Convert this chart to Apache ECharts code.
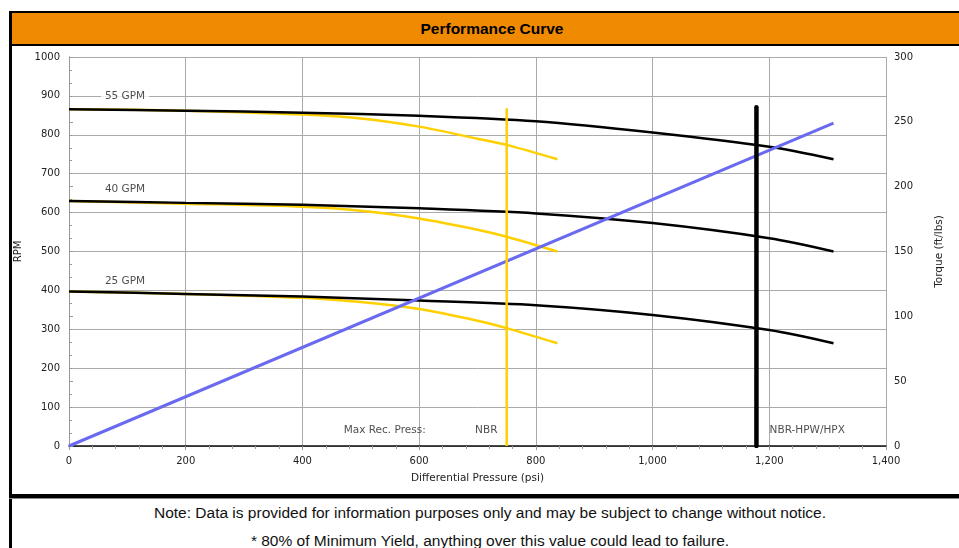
<!DOCTYPE html>
<html>
<head>
<meta charset="utf-8">
<script src="https://cdn.jsdelivr.net/npm/echarts@6/dist/echarts.min.js"></script>
<style>
body { margin: 0; width: 959px; height: 548px; overflow: hidden; background: #fff; font-family: "Liberation Sans", Arial, sans-serif; }
#frame { position: absolute; left: 9px; top: 11px; width: 960px; height: 560px; border-left: 3px solid #000; }
#head { position: absolute; left: 9px; top: 11px; width: 960px; height: 31px; background: #F08A00;
  border-top: 2px solid #000; border-bottom: 2px solid #000; border-left: 3px solid #000; }
#head span { position: absolute; left: 0; width: 960px; text-align: center; line-height: 31px; font-size: 15.5px; font-weight: bold; color: #000; }
#sep { position: absolute; left: 9px; top: 494px; width: 960px; height: 4px; background: #000; border-bottom: 1px solid #888; }
.note { position: absolute; left: 12px; width: 956px; text-align: center; font-size: 15.5px; color: #111; }
#chart { position: absolute; left: 0; top: 0; width: 959px; height: 548px; z-index: 2; }
</style>
</head>
<body>
<div id="frame"></div>
<div id="head"><span>Performance Curve</span></div>
<div id="sep"></div>
<div class="note" style="top:504px">Note: Data is provided for information purposes only and may be subject to change without notice.</div>
<div class="note" style="top:532px">* 80% of Minimum Yield, anything over this value could lead to failure.</div>
<div id="chart"></div>
<script>
// psi values where the curves were read
const psiFull = [0, 200, 400, 600, 800, 1000, 1200, 1310];
const psiNbr = [0, 200, 400, 500, 600, 700, 750, 837];

// RPM, NBR-HPW/HPX (black)
const hpw55 = [866, 862, 857, 849, 835, 806, 769, 737];
const hpw40 = [630, 625, 620, 611, 598, 573, 534, 500];
const hpw25 = [397, 391, 384, 374, 362, 337, 298, 264];

// RPM, NBR (yellow)
const nbr55 = [866, 862, 852, 842, 821, 790, 774, 737];
const nbr40 = [630, 623, 615, 605, 585, 556, 538, 500];
const nbr25 = [397, 391, 381, 370, 352, 322, 303, 264];

// torque line (ft/lbs)
const torquePsi = [0, 1310];
const torque = [0, 249];

// max recommended pressure lines
const nbrMax = [[750, 0], [750, 868]];
const hpwMax = [[1178, 0], [1178, 871]];

const curveLabels = [[96, 898, '55 GPM'], [96, 660, '40 GPM'], [96, 424, '25 GPM']];
const pressLabels = [[541, 41, 'Max Rec. Press:'], [715, 41, 'NBR'], [1265, 41, 'NBR-HPW/HPX']];

const zip = (xs, ys) => xs.map((x, i) => [x, ys[i]]);
const txt = '#222';
const font = 'DejaVu Sans';
const fs = 10;

let chart = echarts.init(document.getElementById('chart'));

function curve(xs, ys, color) {
	return {
		type: 'line',
		data: zip(xs, ys),
		smooth: 0.3,
		symbol: 'none',
		lineStyle: { color: color, width: 2.5 },
		silent: true,
	};
}

function textSeries(items, bg) {
	return {
		type: 'scatter',
		symbolSize: 0,
		data: items.map(d => ({ value: [d[0], d[1]], name: d[2] })),
		label: {
			show: true,
			position: 'inside',
			formatter: p => p.name,
			color: txt,
			fontFamily: font,
			fontSize: 10.5,
			backgroundColor: bg,
			padding: [1, 4],
		},
		z: 5,
	};
}

const option = {
	animation: false,
	grid: { left: 69, right: 73, top: 57, bottom: 102 },
	xAxis: [
		{
			type: 'value',
			min: 0,
			max: 1400,
			interval: 200,
			name: 'Differential Pressure (psi)',
			nameLocation: 'middle',
			nameGap: 27,
			nameTextStyle: { color: txt, fontFamily: font, fontSize: 10.5 },
			axisLine: { lineStyle: { color: '#999' } },
			axisTick: { show: true, length: 4, lineStyle: { color: '#999' } },
			minorTick: { show: true, splitNumber: 5, length: 3, lineStyle: { color: '#999' } },
			axisLabel: {
				color: txt, fontFamily: font, fontSize: fs, margin: 10,
				formatter: v => v.toLocaleString('en-US'),
			},
			splitLine: { show: true, lineStyle: { color: '#aaa' } },
		},
		{
			// top border of the plot
			type: 'value',
			position: 'top',
			min: 0,
			max: 1400,
			axisLine: { lineStyle: { color: '#111', width: 1.5 } },
			axisTick: { show: false },
			minorTick: { show: false },
			axisLabel: { show: false },
			splitLine: { show: false },
		},
	],
	yAxis: [
		{
			type: 'value',
			min: 0,
			max: 1000,
			interval: 100,
			name: 'RPM',
			nameLocation: 'middle',
			nameRotate: 90,
			nameGap: 45,
			nameTextStyle: { color: txt, fontFamily: font, fontSize: fs },
			axisLine: { show: true, lineStyle: { color: '#999' } },
			axisTick: { show: false },
			minorTick: { show: false },
			axisLabel: { color: txt, fontFamily: font, fontSize: fs, margin: 9, formatter: v => String(v) },
			splitLine: { show: true, lineStyle: { color: '#aaa' } },
		},
		{
			type: 'value',
			position: 'right',
			min: 0,
			max: 300,
			interval: 50,
			name: 'Torque (ft/lbs)',
			nameLocation: 'middle',
			nameRotate: 90,
			nameGap: 48,
			nameTextStyle: { color: txt, fontFamily: font, fontSize: 10.5 },
			axisLine: { show: true, lineStyle: { color: '#999' } },
			axisTick: { show: true, length: 4, lineStyle: { color: '#999' } },
			minorTick: { show: true, splitNumber: 5, length: 3, lineStyle: { color: '#999' } },
			axisLabel: { color: txt, fontFamily: font, fontSize: fs, margin: 8 },
			splitLine: { show: false },
		},
	],
	series: [
		curve(psiNbr, nbr55, '#FFD000'),
		curve(psiNbr, nbr40, '#FFD000'),
		curve(psiNbr, nbr25, '#FFD000'),
		curve(psiFull, hpw55, '#000'),
		curve(psiFull, hpw40, '#000'),
		curve(psiFull, hpw25, '#000'),
		{
			type: 'line',
			yAxisIndex: 1,
			data: zip(torquePsi, torque),
			symbol: 'none',
			lineStyle: { color: '#6A6AF0', width: 3 },
			silent: true,
		},
		{
			type: 'line',
			data: nbrMax,
			symbol: 'none',
			lineStyle: { color: '#FFD000', width: 2.5 },
			silent: true,
		},
		{
			type: 'line',
			data: hpwMax,
			symbol: 'none',
			lineStyle: { color: '#000', width: 4.5, cap: 'round' },
			silent: true,
		},
		textSeries(curveLabels, '#fff'),
		textSeries(pressLabels, 'transparent'),
	],
};

chart.setOption(option);
</script>
</body>
</html>
